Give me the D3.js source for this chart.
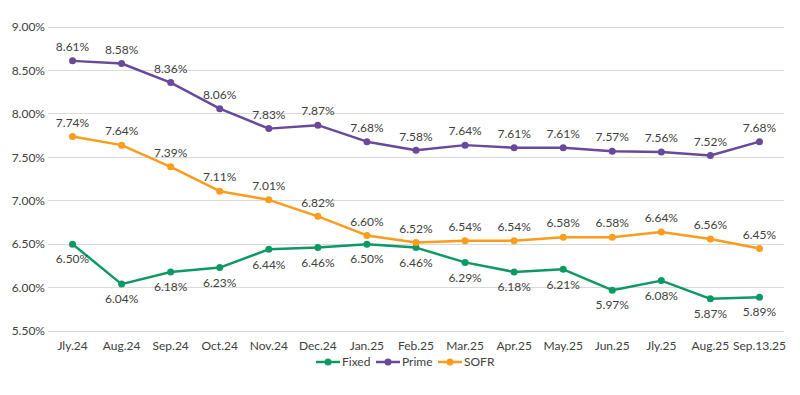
<!DOCTYPE html>
<html><head><meta charset="utf-8">
<script src="https://cdn.jsdelivr.net/npm/d3@7"></script>
<style>body{margin:0;background:#fff}svg{display:block}text{font-family:Lato,"Open Sans",sans-serif}</style>
</head><body>
<svg id="c" width="800" height="395"></svg>
<script>
const categories=["Jly.24","Aug.24","Sep.24","Oct.24","Nov.24","Dec.24","Jan.25","Feb.25","Mar.25","Apr.25","May.25","Jun.25","Jly.25","Aug.25","Sep.13.25"];
const fixed=[6.50,6.04,6.18,6.23,6.44,6.46,6.50,6.46,6.29,6.18,6.21,5.97,6.08,5.87,5.89];
const prime=[8.61,8.58,8.36,8.06,7.83,7.87,7.68,7.58,7.64,7.61,7.61,7.57,7.56,7.52,7.68];
const sofr=[7.74,7.64,7.39,7.11,7.01,6.82,6.60,6.52,6.54,6.54,6.58,6.58,6.64,6.56,6.45];
const yTicks=[5.5,6.0,6.5,7.0,7.5,8.0,8.5,9.0];
const seriesNames=["Fixed","Prime","SOFR"];
const colors=["#0e9964","#674a9c","#fb9c1c"];

const svg=d3.select("#c");
const L=48,R=784,T=27,B=331;
const x=d3.scaleBand().domain(categories).range([L,R]);
const y=d3.scaleLinear().domain([5.5,9.0]).range([B,T]);
const cx=d=>x(d)+x.bandwidth()/2;

svg.append("g").selectAll("line").data(yTicks).join("line")
 .attr("x1",L).attr("x2",R).attr("y1",d=>y(d)).attr("y2",d=>y(d))
 .attr("stroke","#d9d9d9").attr("stroke-width",1).attr("shape-rendering","crispEdges");
const yAxis=d3.axisLeft(y).tickValues(yTicks).tickFormat(d=>d.toFixed(2)+"%").tickSize(0).tickPadding(3);
const ya=svg.append("g").attr("transform",`translate(${L},0)`).call(yAxis);
ya.select(".domain").remove();
ya.selectAll("text").attr("font-size",12).attr("fill","#404040").style("font-family","Lato,'Open Sans',sans-serif");
const xAxis=d3.axisBottom(x).tickSize(0).tickPadding(10);
const xa=svg.append("g").attr("transform",`translate(0,${B})`).call(xAxis);
xa.select(".domain").remove();
xa.selectAll("text").attr("font-size",12).attr("fill","#404040").style("font-family","Lato,'Open Sans',sans-serif");

const data=[fixed,prime,sofr];
const offsets=[15,-14,-14];
const line=d3.line().x((d,i)=>cx(categories[i])).y(d=>y(d));
data.forEach((vals,k)=>{
  const g=svg.append("g");
  g.append("path").datum(vals).attr("d",line).attr("fill","none").attr("stroke",colors[k]).attr("stroke-width",2.5).attr("stroke-linejoin","round");
  g.selectAll("circle").data(vals).join("circle").attr("cx",(d,i)=>cx(categories[i])).attr("cy",d=>y(d)).attr("r",3.5).attr("fill",colors[k]);
  g.selectAll("text").data(vals).join("text").attr("x",(d,i)=>cx(categories[i])).attr("y",d=>y(d)+offsets[k]).attr("dy","0.35em")
   .attr("text-anchor","middle").attr("font-size",12).attr("fill","#404040").text(d=>d.toFixed(2)+"%");
});

const legX=[316,376,438];
const lg=svg.append("g");
seriesNames.forEach((n,k)=>{
  const gx=legX[k], gy=362;
  lg.append("line").attr("x1",gx).attr("x2",gx+24).attr("y1",gy).attr("y2",gy).attr("stroke",colors[k]).attr("stroke-width",2.5);
  lg.append("circle").attr("cx",gx+12).attr("cy",gy).attr("r",3.5).attr("fill",colors[k]);
  lg.append("text").attr("x",gx+26).attr("y",gy).attr("dy","0.35em").attr("font-size",12).attr("fill","#404040").text(n);
});
</script>
</body></html>
